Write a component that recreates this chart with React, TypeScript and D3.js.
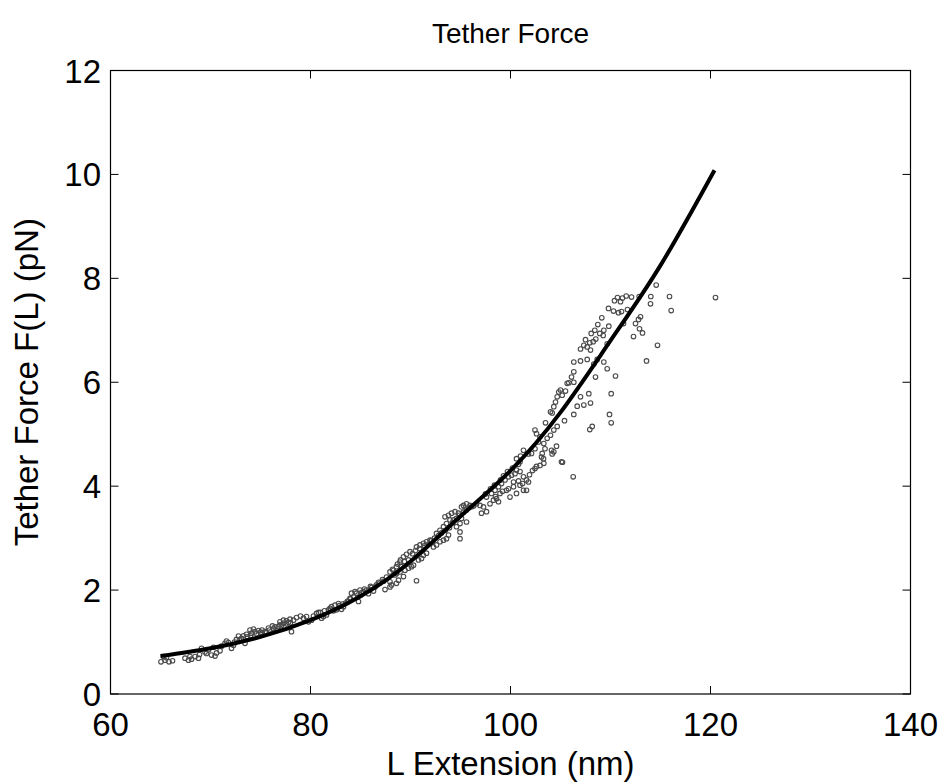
import React from "react";
import * as d3 from "d3";

// ---- Data ----
const xTicks = [60, 80, 100, 120, 140];
const yTicks = [0, 2, 4, 6, 8, 10, 12];

// Fitted tether-force curve
const fitExtension = [65, 70, 75, 80, 85, 90, 95, 100, 105, 110, 115, 120.4];
const fitForce = [0.73, 0.88, 1.1, 1.42, 1.88, 2.55, 3.42, 4.3, 5.42, 6.8, 8.25, 10.08];

// Measured points: extension (nm)
const extensionNm = [
  65.05, 65.45, 65.85, 66.2, 65.3, 65.6, 67.45, 67.8, 68.1, 68.45, 68.8, 67.95,
  70.1, 70.6, 70.45, 70.95, 69.8, 69.45, 69.1, 72.1, 72.3, 71.45, 71.1, 71.8,
  73.45, 73.1, 72.8, 73.6, 74.1, 74.45, 73.95, 74.8, 75.15, 75.15, 75.45, 76.45,
  76.95, 77.3, 74.3, 75.8, 76.2, 73.3, 72.6, 71.6, 70.3, 69.6, 68.9, 75.6, 76.6, 77.8,
  78.1, 76.95, 77.3, 77.6, 77.95, 78.3, 79.3, 79.8, 80.1, 79.6, 80.3, 81.1, 81.3,
  81.6, 81.8, 81.95, 82.1, 82.45, 82.8, 82.6, 83.1, 83.3, 83.8, 83.95, 84.3, 84.1,
  84.6, 84.8, 84.45, 84.95, 85.3, 85.6, 85.95, 86.1, 86.45, 86.6, 87.45, 87.95,
  88.1, 87.95, 88.6, 88.8, 88.45, 88.95, 89.3, 89.45, 89.1, 89.8, 87.95, 88.3, 88.6,
  78.6, 79.0, 80.6, 81.0, 82.3, 83.5, 85.0, 85.8, 86.8, 87.2, 87.6, 86.3,
  90.6, 88.6, 88.95, 90.1, 90.3, 89.3, 89.6, 89.95, 89.8, 90.8, 91.1, 91.3, 91.6,
  90.6, 90.95, 91.3, 91.6, 91.95, 92.3, 92.6, 92.95, 93.3, 93.6, 93.8, 94.95, 92.6,
  92.95, 93.3, 93.6, 93.95, 93.45, 93.8, 94.1, 94.45, 94.3, 94.8, 94.6, 94.95, 95.1,
  95.3, 95.6, 95.95, 96.1, 95.6, 95.1, 95.6, 94.95, 97.1, 97.6, 96.95, 97.95, 98.3,
  98.6, 98.8, 97.3,
  97.6, 98.1, 98.45, 98.8, 99.1, 99.45, 99.8, 100.1, 100.45, 100.6, 100.95, 101.3,
  101.6, 101.8, 98.95, 99.6, 100.3, 100.95, 99.95, 100.6, 101.3, 101.6, 102.45,
  102.6, 102.95, 101.3, 100.6, 100.95, 102.1, 102.45, 102.8, 102.95, 102.6, 102.45,
  114.57, 120.5, 115.9, 116.07, 114.03, 114.0, 114.7, 113.6, 112.87, 112.1, 111.57,
  111.2, 110.7, 110.4, 111.0, 109.8, 110.3, 110.8, 111.1, 111.7, 113.0, 112.8, 112.5,
  112.9, 113.2, 112.3, 111.3, 109.13, 108.73, 109.83, 109.33, 108.93, 109.27, 108.43,
  108.07, 108.53, 108.27, 107.5, 107.93, 107.33, 107.0, 107.67, 108.0, 109.67, 106.33,
  107.0, 107.67, 108.67, 109.33, 109.67, 108.5, 110.5, 108.33, 106.33, 106.1, 105.83,
  105.67, 105.0, 104.83, 105.5, 105.17, 104.67, 104.5, 104.33, 104.0, 104.17, 106.33,
  107.0, 107.83, 108.0, 107.33, 106.67, 106.33, 110.07, 109.9, 110.07, 108.17, 107.93,
  105.4, 103.5, 104.67, 104.33, 104.0, 103.67, 103.33, 104.6, 104.33, 104.17, 105.2,
  103.33, 103.17, 106.27, 105.1, 103.1, 103.3, 104.1, 103.45,
  72.4, 72.9, 73.7, 74.0, 74.6, 75.0, 75.9, 76.3, 76.8, 77.1, 77.6, 78.0,
  80.8, 81.4, 82.0, 82.9, 83.2, 83.7, 84.0, 85.1, 85.4, 86.0, 86.9, 87.3,
  88.2, 88.7, 89.0, 89.4, 90.2, 90.5, 90.9, 91.4, 91.8, 92.1, 92.4, 92.8, 93.1,
  93.5, 93.9, 94.2, 94.6, 94.9, 95.3, 95.8, 96.3, 96.6,
  97.5, 98.0, 98.4, 99.0, 99.3, 99.7, 100.2, 100.8, 101.0, 101.8,
  98.5, 99.2, 99.8, 100.3, 100.8, 101.2, 101.9, 102.2,
];

// Measured points: force (pN)
const forcePn = [
  0.62, 0.65, 0.62, 0.64, 0.72, 0.7, 0.69, 0.65, 0.67, 0.72, 0.69, 0.72,
  0.75, 0.79, 0.73, 0.83, 0.85, 0.81, 0.88, 0.88, 0.94, 0.975, 0.92, 0.99,
  0.975, 1.07, 1.115, 1.15, 1.17, 1.2, 1.23, 1.22, 1.23, 1.17, 1.2, 1.29,
  1.33, 1.36, 1.25, 1.27, 1.31, 1.12, 1.05, 1.02, 0.9, 0.78, 0.76, 1.18, 1.22, 1.38,
  1.2, 1.39, 1.42, 1.41, 1.44, 1.42, 1.46, 1.39, 1.42, 1.49, 1.5, 1.46, 1.49,
  1.52, 1.62, 1.65, 1.68, 1.71, 1.74, 1.62, 1.63, 1.68, 1.78, 1.84, 1.87, 1.94,
  1.94, 1.78, 1.97, 2.0, 1.97, 2.0, 2.01, 2.05, 2.06, 2.1, 2.01, 2.16,
  2.1, 2.06, 2.13, 2.19, 2.29, 2.35, 2.26, 2.38, 2.45, 2.42, 2.35, 2.38, 2.45,
  1.47, 1.5, 1.55, 1.57, 1.6, 1.75, 1.9, 1.93, 2.15, 2.2, 2.25, 1.98,
  2.18, 2.32, 2.54, 2.45, 2.48, 2.64, 2.69, 2.74, 2.58, 2.58, 2.61, 2.67, 2.71,
  2.83, 2.87, 2.9, 2.93, 2.96, 2.83, 2.87, 2.93, 2.96, 2.99, 3.06, 2.99, 3.09,
  3.15, 3.22, 3.28, 3.35, 3.41, 3.44, 3.48, 3.51, 3.35, 3.48, 3.22, 3.28, 3.6,
  3.63, 3.66, 3.63, 3.6, 3.54, 3.38, 3.31, 3.12, 3.48, 3.51, 3.63, 3.66, 3.73,
  3.76, 3.7, 3.6,
  3.79, 3.86, 3.92, 3.99, 4.05, 4.12, 4.18, 4.21, 4.24, 4.31, 4.28, 4.18,
  4.12, 4.08, 3.86, 3.92, 3.99, 4.02, 3.79, 3.86, 3.92, 3.92, 4.34,
  4.38, 4.4, 4.69, 4.53, 4.47, 4.63, 4.72, 4.85, 4.95, 5.01, 5.08,
  7.87, 7.63, 7.65, 7.38, 7.65, 7.51, 6.71, 6.41, 7.65, 7.64, 7.66,
  7.62, 7.63, 7.57, 7.55, 7.42, 7.37, 7.34, 7.36, 7.4, 7.26, 7.21, 7.13,
  7.03, 6.95, 6.88, 7.13, 7.24, 7.11, 7.08, 7.0, 6.94, 6.9, 7.0,
  6.94, 6.83, 6.78, 6.82, 6.76, 6.71, 6.64, 6.68, 6.62, 6.74, 6.39,
  6.41, 6.44, 6.44, 6.39, 6.26, 6.1, 6.12, 6.35, 6.2, 6.1, 5.99,
  5.98, 5.85, 5.81, 5.83, 5.75, 5.72, 5.62, 5.53, 5.43, 5.41, 6.0,
  5.72, 5.78, 5.6, 5.56, 5.54, 5.38, 5.78, 5.38, 5.22, 5.15, 5.09,
  5.26, 5.22, 5.15, 5.08, 4.98, 4.92, 4.82, 4.77, 4.66, 4.62, 4.46,
  4.44, 4.63, 4.18, 4.47, 4.56, 4.53, 4.69, 4.72,
  1.0, 1.04, 1.1, 1.12, 1.16, 1.19, 1.23, 1.26, 1.3, 1.32, 1.35, 1.37,
  1.57, 1.6, 1.63, 1.7, 1.73, 1.79, 1.83, 1.95, 2.02, 2.07, 2.13, 2.17,
  2.4, 2.5, 2.58, 2.55, 2.7, 2.76, 2.8, 2.85, 2.88, 2.95, 3.0, 3.05, 3.1,
  3.15, 3.2, 3.3, 3.38, 3.44, 3.5, 3.58, 3.62, 3.66,
  3.85, 3.95, 4.02, 4.12, 4.2, 4.28, 4.35, 4.42, 4.58, 4.62,
  3.8, 3.9, 3.95, 4.08, 4.1, 4.05, 4.22, 4.3,
];

const titleText = "Tether Force";
const xLabel = "L Extension (nm)";
const yLabel = "Tether Force F(L) (pN)";

// ---- Layout ----
const W = 946;
const H = 782;
const left = 110.5;
const right = 910.5;
const top = 70.5;
const bottom = 694;
const tickLen = 8;
const font = "'Liberation Sans', Arial, Helvetica, sans-serif";

export default function App() {
  const x = d3.scaleLinear().domain([60, 140]).range([left, right]);
  const y = d3.scaleLinear().domain([0, 12]).range([bottom, top]);

  const fitPts: [number, number][] = fitExtension.map((e, i) => [e, fitForce[i]]);
  const line = d3
    .line<[number, number]>()
    .x((d) => x(d[0]))
    .y((d) => y(d[1]))
    .curve(d3.curveNatural);

  const pts = extensionNm.map((e, i) => [e, forcePn[i]] as [number, number]);

  return (
    <svg
      width={W}
      height={H}
      style={{ position: "absolute", left: 0, top: 0, background: "#fff" }}
      fontFamily={font}
    >
      <rect x={0} y={0} width={W} height={H} fill="#fff" />
      {/* points */}
      <g fill="none" stroke="#4a4a4a" strokeWidth={1.1}>
        {pts.map((p, i) => (
          <circle key={i} cx={x(p[0])} cy={y(p[1])} r={2.3} />
        ))}
      </g>
      {/* fit line */}
      <path d={line(fitPts) || ""} fill="none" stroke="#000" strokeWidth={4} />

      {/* axes box */}
      <rect
        x={left}
        y={top}
        width={right - left}
        height={bottom - top}
        fill="none"
        stroke="#000"
        strokeWidth={1.2}
      />
      {/* ticks */}
      <g stroke="#000" strokeWidth={1}>
        {xTicks.map((t) => (
          <g key={"xt" + t}>
            <line x1={x(t)} x2={x(t)} y1={bottom} y2={bottom - tickLen} />
            <line x1={x(t)} x2={x(t)} y1={top} y2={top + tickLen} />
          </g>
        ))}
        {yTicks.map((t) => (
          <g key={"yt" + t}>
            <line x1={left} x2={left + tickLen} y1={y(t)} y2={y(t)} />
            <line x1={right} x2={right - tickLen} y1={y(t)} y2={y(t)} />
          </g>
        ))}
      </g>
      {/* tick labels */}
      <g fontSize={33} fill="#000">
        {xTicks.map((t) => (
          <text key={"xl" + t} x={x(t)} y={736} textAnchor="middle">
            {t}
          </text>
        ))}
        {yTicks.map((t) => (
          <text key={"yl" + t} x={101} y={y(t) + 12} textAnchor="end">
            {t}
          </text>
        ))}
      </g>
      {/* labels */}
      <text x={(left + right) / 2} y={775} textAnchor="middle" fontSize={33}>
        {xLabel}
      </text>
      <text
        transform={`translate(38, ${(top + bottom) / 2}) rotate(-90)`}
        textAnchor="middle"
        fontSize={33}
      >
        {yLabel}
      </text>
      <text x={(left + right) / 2} y={43} textAnchor="middle" fontSize={28}>
        {titleText}
      </text>
    </svg>
  );
}
